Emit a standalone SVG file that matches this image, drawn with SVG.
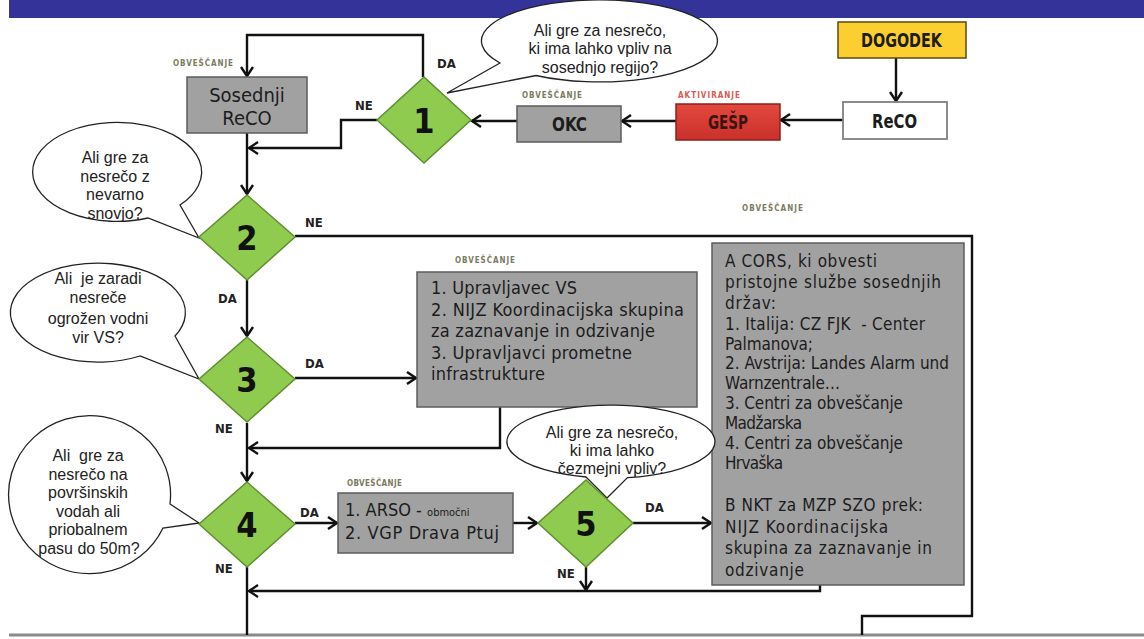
<svg xmlns="http://www.w3.org/2000/svg" width="1144" height="639" viewBox="0 0 1144 639">
<defs>
<marker id="arr" markerUnits="userSpaceOnUse" markerWidth="14" markerHeight="16" refX="10" refY="7" orient="auto">
<path d="M1,1 L10,7 L1,13" fill="none" stroke="#111" stroke-width="2.4"/>
</marker>
<linearGradient id="red" x1="0" y1="0" x2="0" y2="1">
<stop offset="0" stop-color="#e4493e"/>
<stop offset="1" stop-color="#c9302a"/>
</linearGradient>
</defs>
<style>
.bx{fill:#a1a1a1;stroke:#5c5c5c;stroke-width:1.5}
.dm{fill:#8fcb4e;stroke:#5e8f30;stroke-width:1.5}
.bt{font-family:"DejaVu Sans Condensed","DejaVu Sans",sans-serif;font-stretch:condensed;fill:#1c1c1c}
.num{font-family:"DejaVu Sans Condensed","DejaVu Sans",sans-serif;font-stretch:condensed;font-weight:bold;font-size:34px;fill:#111;text-anchor:middle}
.lb{font-family:"DejaVu Sans Condensed","DejaVu Sans",sans-serif;font-stretch:condensed;font-weight:bold;font-size:13px;fill:#222}
.sm{font-family:"DejaVu Sans Condensed","DejaVu Sans",sans-serif;font-stretch:condensed;font-weight:bold;font-size:8px;fill:#7b7b5e}
.bub{fill:#fff;stroke:#222;stroke-width:1.3}
.bubt{font-family:"Liberation Sans",Arial,sans-serif;font-size:16px;fill:#222;text-anchor:middle}
.cn{fill:none;stroke:#111;stroke-width:2.4}
</style>
<rect x="9" y="0" width="1135" height="18" fill="#333399"/>
<line x1="9" y1="635" x2="1144" y2="635" stroke="#8a8a8a" stroke-width="3"/>

<g id="connectors">
<path class="cn" d="M896 58 L896 101" marker-end="url(#arr)"/>
<path class="cn" d="M843 120 L781 120" marker-end="url(#arr)"/>
<path class="cn" d="M676 121 L622 121" marker-end="url(#arr)"/>
<path class="cn" d="M517 121 L472 121" marker-end="url(#arr)"/>
<path class="cn" d="M423 77 L423 35 L247 35 L247 76" marker-end="url(#arr)"/>
<path class="cn" d="M377 120 L341 120 L341 148 L249 148" marker-end="url(#arr)"/>
<path class="cn" d="M247 133 L247 194" marker-end="url(#arr)"/>
<path class="cn" d="M295 236 L972 236 L972 616 L862 616 L862 635"/>
<path class="cn" d="M247 280 L247 336" marker-end="url(#arr)"/>
<path class="cn" d="M295 378 L416 378" marker-end="url(#arr)"/>
<path class="cn" d="M500 407 L500 448 L249 448" marker-end="url(#arr)"/>
<path class="cn" d="M247 423 L247 481" marker-end="url(#arr)"/>
<path class="cn" d="M295 523 L337 523" marker-end="url(#arr)"/>
<path class="cn" d="M513 523 L537 523" marker-end="url(#arr)"/>
<path class="cn" d="M633 523 L711 523" marker-end="url(#arr)"/>
<path class="cn" d="M586 567 L586 590" marker-end="url(#arr)"/>
<path class="cn" d="M820 585 L820 591 L249 591" marker-end="url(#arr)"/>
<path class="cn" d="M247 567 L247 635"/>
</g>

<g id="dogodek">
<rect x="838" y="22" width="128" height="36" fill="#fccf30" stroke="#5a4a10" stroke-width="1.5"/>
<text class="bt" x="861" y="47" font-size="19" font-weight="bold" textLength="81" lengthAdjust="spacingAndGlyphs" fill="#2a2200">DOGODEK</text>
</g>
<g id="reco">
<rect x="843" y="102" width="104" height="37" fill="#fff" stroke="#808080" stroke-width="1.8"/>
<text class="bt" x="872" y="128" font-size="19" font-weight="bold" textLength="45" lengthAdjust="spacingAndGlyphs">ReCO</text>
</g>
<g id="gesp">
<text class="sm" x="678" y="98" textLength="62" style="fill:#d95a50">AKTIVIRANJE</text>
<rect x="676" y="104" width="104" height="36" fill="url(#red)" stroke="#8a1f1a" stroke-width="1.5"/>
<text class="bt" x="708" y="129" font-size="19" font-weight="bold" textLength="40" lengthAdjust="spacingAndGlyphs" style="fill:#3a1512">GEŠP</text>
</g>
<g id="okc">
<text class="sm" x="522" y="98" textLength="60">OBVEŠČANJE</text>
<rect class="bx" x="517" y="106" width="104" height="36"/>
<text class="bt" x="552" y="131" font-size="19" font-weight="bold" textLength="35" lengthAdjust="spacingAndGlyphs">OKC</text>
</g>
<g id="sosednji">
<text class="sm" x="173" y="66" textLength="60">OBVEŠČANJE</text>
<rect class="bx" x="187" y="77" width="120" height="56"/>
<text class="bt" x="247" y="102" font-size="20" text-anchor="middle">Sosednji</text>
<text class="bt" x="247" y="125" font-size="20" text-anchor="middle">ReCO</text>
</g>

<g id="d1">
<polygon class="dm" points="424,77 471,120 424,163 377,120"/>
<text class="num" x="424" y="133">1</text>
<text class="lb" x="437" y="68">DA</text>
<text class="lb" x="355" y="110">NE</text>
</g>
<g id="bubble1">
<path class="bub" d="M500 63 L447 93 L536 75.5 A118 41 0 1 0 500 63 Z"/>
<text class="bubt" x="600" y="36">Ali gre za nesrečo,</text>
<text class="bubt" x="600" y="54">ki ima lahko vpliv na</text>
<text class="bubt" x="600" y="73">sosednjo regijo?</text>
</g>

<g id="bubble2">
<path class="bub" d="M180 205 L199 238 L148 218 A84.5 49.5 0 1 1 180 205 Z"/>
<text class="bubt" x="115" y="163">Ali gre za</text>
<text class="bubt" x="115" y="182">nesrečo z</text>
<text class="bubt" x="115" y="200">nevarno</text>
<text class="bubt" x="115" y="219">snovjo?</text>
</g>
<g id="d2">
<polygon class="dm" points="247,195 295,237 247,280 199,237"/>
<text class="num" x="247" y="250">2</text>
<text class="lb" x="305" y="227">NE</text>
<text class="lb" x="218" y="303">DA</text>
<text class="sm" x="742" y="211" textLength="61">OBVEŠČANJE</text>
</g>

<g id="bubble3">
<path class="bub" d="M175 336 L199 379 L140 356 A87.5 49.5 0 1 1 175 336 Z"/>
<text class="bubt" x="98" y="284" xml:space="preserve">Ali  je zaradi</text>
<text class="bubt" x="98" y="303">nesreče</text>
<text class="bubt" x="98" y="324">ogrožen vodni</text>
<text class="bubt" x="98" y="343">vir VS?</text>
</g>
<g id="d3">
<polygon class="dm" points="247,337 295,379 247,422 199,379"/>
<text class="num" x="247" y="392">3</text>
<text class="lb" x="305" y="368">DA</text>
<text class="lb" x="215" y="433">NE</text>
</g>

<g id="box3">
<text class="sm" x="455" y="263" textLength="60">OBVEŠČANJE</text>
<rect class="bx" x="417" y="272" width="280" height="135"/>
<text class="bt" font-size="18" x="431" y="294" textLength="146">1. Upravljavec VS</text>
<text class="bt" font-size="18" x="431" y="315.5" textLength="253">2. NIJZ Koordinacijska skupina</text>
<text class="bt" font-size="18" x="431" y="337" textLength="224">za zaznavanje in odzivanje</text>
<text class="bt" font-size="18" x="431" y="358.5" textLength="201">3. Upravljavci prometne</text>
<text class="bt" font-size="18" x="431" y="380" textLength="114">infrastrukture</text>
</g>

<g id="cors">
<rect class="bx" x="712" y="243" width="252" height="342"/>
<text class="bt" font-size="17" x="725" y="267" textLength="152">A CORS, ki obvesti</text>
<text class="bt" font-size="17" x="725" y="288" textLength="216">pristojne službe sosednjih</text>
<text class="bt" font-size="17" x="725" y="309" textLength="51">držav:</text>
<text class="bt" font-size="17" x="725" y="330" textLength="200" xml:space="preserve">1. Italija: CZ FJK  - Center</text>
<text class="bt" font-size="17" x="725" y="350" textLength="88">Palmanova;</text>
<text class="bt" font-size="17" x="725" y="369" textLength="224">2. Avstrija: Landes Alarm und</text>
<text class="bt" font-size="17" x="725" y="389" textLength="115">Warnzentrale…</text>
<text class="bt" font-size="17" x="725" y="409" textLength="178">3. Centri za obveščanje</text>
<text class="bt" font-size="17" x="725" y="429" textLength="77">Madžarska</text>
<text class="bt" font-size="17" x="725" y="449" textLength="178">4. Centri za obveščanje</text>
<text class="bt" font-size="17" x="725" y="469" textLength="58">Hrvaška</text>
<text class="bt" font-size="17" x="725" y="511" textLength="198">B NKT za MZP SZO prek:</text>
<text class="bt" font-size="17" x="725" y="533" textLength="163">NIJZ Koordinacijska</text>
<text class="bt" font-size="17" x="725" y="554" textLength="207">skupina za zaznavanje in</text>
<text class="bt" font-size="17" x="725" y="576" textLength="79">odzivanje</text>
</g>

<g id="bubble4">
<path class="bub" d="M170 504 L199 523 L163 528 A81 79 0 1 1 170 504 Z"/>
<text class="bubt" x="88" y="461" xml:space="preserve">Ali  gre za</text>
<text class="bubt" x="88" y="479.5">nesrečo na</text>
<text class="bubt" x="88" y="498">površinskih</text>
<text class="bubt" x="88" y="516.5">vodah ali</text>
<text class="bubt" x="88" y="535">priobalnem</text>
<text class="bubt" x="89" y="553.5">pasu do 50m?</text>
</g>
<g id="d4">
<polygon class="dm" points="247,482 295,524 247,567 199,524"/>
<text class="num" x="247" y="537">4</text>
<text class="lb" x="300" y="517">DA</text>
<text class="lb" x="215" y="573">NE</text>
</g>

<g id="arso">
<text class="sm" x="347" y="486" textLength="55">OBVEŠČANJE</text>
<rect class="bx" x="338" y="493" width="175" height="60"/>
<text class="bt" font-size="18" x="345" y="516">1. ARSO - <tspan font-size="11">območni</tspan></text>
<text class="bt" font-size="18" x="345" y="539" textLength="154">2. VGP Drava Ptuj</text>
</g>

<g id="bubble5">
<path class="bub" d="M586 477 L607 498 L627.5 477.6 A104 36.5 0 1 0 586 477 Z"/>
<text class="bubt" x="612" y="438">Ali gre za nesrečo,</text>
<text class="bubt" x="612" y="456">ki ima lahko</text>
<text class="bubt" x="612" y="474">čezmejni vpliv?</text>
</g>
<g id="d5">
<polygon class="dm" points="586,480 633,523 586,567 538,523"/>
<text class="num" x="586" y="536">5</text>
<text class="lb" x="645" y="512">DA</text>
<text class="lb" x="557" y="578">NE</text>
</g>
</svg>
